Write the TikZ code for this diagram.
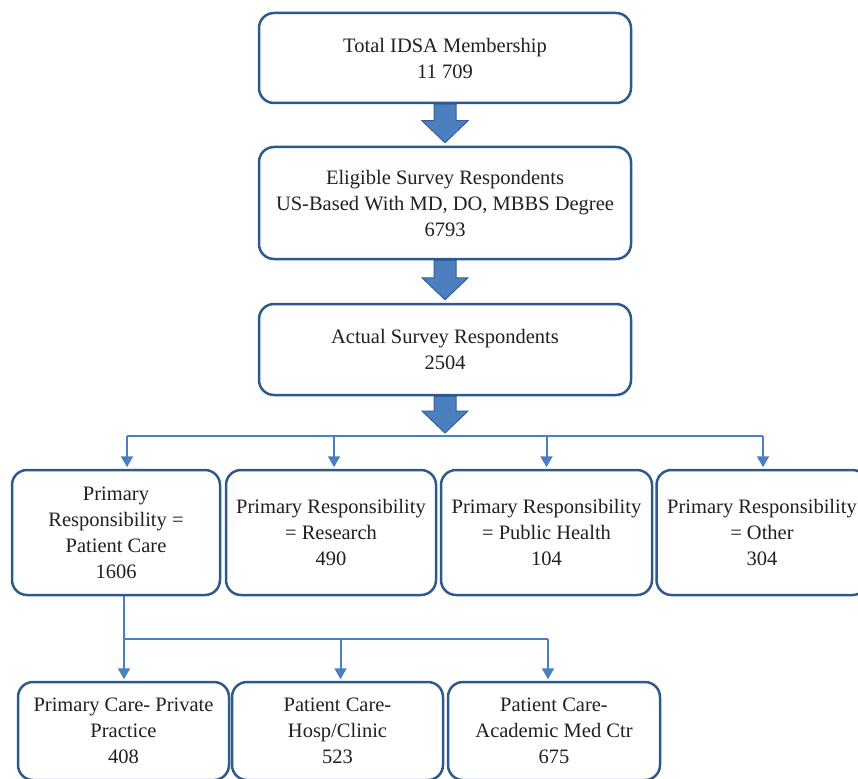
\documentclass[tikz,border=0pt]{standalone}
\usepackage{fontspec}
\setmainfont{Liberation Serif}
\usepackage{tikz}
\usepackage{xcolor}
\usetikzlibrary{arrows.meta, positioning, calc}
\definecolor{boxblue}{RGB}{46, 89, 140}
\definecolor{linkblue}{RGB}{74, 128, 192}
\definecolor{arrowfill}{RGB}{76, 127, 192}
\definecolor{arrowedge}{RGB}{52, 95, 152}
\definecolor{textgray}{RGB}{35, 31, 32}

% wide block arrow from one box to the next
\newcommand{\blockarrow}[2]{%
  \filldraw[bigarrow] ($#1+(-11,0)$) -- ($#2+(-11,-25)$) -- ($#2+(-23,-25)$) -- ($#2+(0,-3)$)
    -- ($#2+(23,-25)$) -- ($#2+(11,-25)$) -- ($#1+(11,0)$) -- cycle;}

\begin{document}
\begin{tikzpicture}[
    x=1pt, y=-1pt,
    stage/.style={rectangle, draw=boxblue, line width=2.5pt, fill=white, rounded corners=15pt,
        align=center, text=textgray, font=\fontsize{20.5}{26}\selectfont, inner sep=0pt},
    wide/.style={stage, minimum width=372pt},
    group/.style={stage, minimum height=125pt},
    sub/.style={stage, minimum height=98pt},
    line/.style={linkblue, line width=2pt},
    link/.style={line, -{Triangle[length=11pt, width=12pt]}},
    bigarrow/.style={fill=arrowfill, draw=arrowedge, line width=1pt, line join=miter}
]
\useasboundingbox (0,0) rectangle (858,778);

% Main stages
\node[wide, minimum height=90pt] (total) at (445,58) {Total IDSA Membership\\11 709};
\node[wide, minimum height=112pt] (eligible) at (445,203) {Eligible Survey Respondents\\US-Based With MD, DO, MBBS Degree\\6793};
\node[wide, minimum height=91pt] (actual) at (445,349.5) {Actual Survey Respondents\\2504};

\blockarrow{(total.south)}{(eligible.north)}
\blockarrow{(eligible.south)}{(actual.north)}

% Primary responsibility
\node[group, minimum width=208pt] (care) at (116,532.5) {Primary\\Responsibility =\\Patient Care\\1606};
\node[group, minimum width=210pt] (research) at (331,532.5) {Primary Responsibility\\= Research\\490};
\node[group, minimum width=211pt] (health) at (546.5,532.5) {Primary Responsibility\\= Public Health\\104};
\node[group, minimum width=211pt] (other) at (762,532.5) {Primary Responsibility\\= Other\\304};

\coordinate (split) at (445,436);
\blockarrow{(actual.south)}{(split)}
\foreach \n/\dx in {care/11, research/3, health/0, other/1} {
  \coordinate (\n-in) at ($(\n.north)+(\dx,-1.5)$);
  \draw[link] (\n-in |- split) -- (\n-in);
}
\draw[line] (care-in |- split) -- (other-in |- split);

% Patient care settings
\node[sub, minimum width=211pt] (private) at (123.5,731) {Primary Care- Private\\Practice\\408};
\node[sub, minimum width=211pt] (hosp) at (337.5,731) {Patient Care-\\Hosp/Clinic\\523};
\node[sub, minimum width=212pt] (academic) at (554,731) {Patient Care-\\Academic Med Ctr\\675};

\coordinate (split2) at (124,639);
\draw[line] (care.south -| split2) -- (split2);
\foreach \n/\dx in {private/0.5, hosp/3, academic/-6} {
  \coordinate (\n-in) at ($(\n.north)+(\dx,-1.5)$);
  \draw[link] (\n-in |- split2) -- (\n-in);
}
\draw[line] (private-in |- split2) -- (academic-in |- split2);

\end{tikzpicture}
\end{document}
